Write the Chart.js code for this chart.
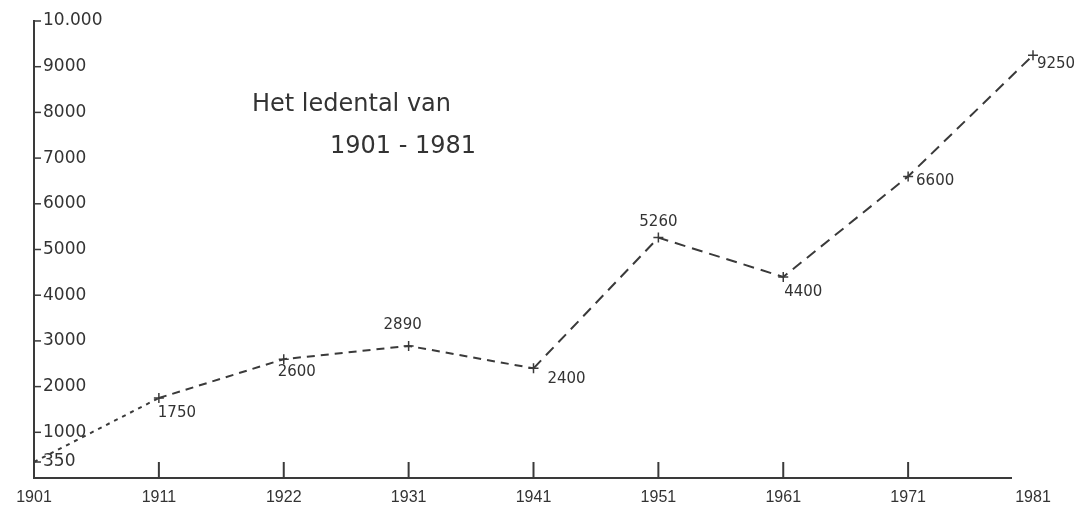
<!DOCTYPE html>
<html>
<head>
<meta charset="utf-8">
<title>Het ledental van 1901 - 1981</title>
<script src="https://cdn.jsdelivr.net/npm/chart.js@4"></script>
<style>
  html, body { margin: 0; padding: 0; background: #fff; }
  #wrap { width: 1079px; height: 507px; }
</style>
</head>
<body>
<div id="wrap"><canvas id="grafiek" width="1079" height="507"></canvas></div>
<script>
//DATA
const jaren = ["1901", "1911", "1922", "1931", "1941", "1951", "1961", "1971", "1981"];
const leden = [350, 1750, 2600, 2890, 2400, 5260, 4400, 6600, 9250];
const yTicks = [350, 1000, 2000, 3000, 4000, 5000, 6000, 7000, 8000, 9000, 10000];
const titel = ["Het ledental van", "1901 - 1981"];

// where each value label sits next to its point (dx, dy), null = no label
const labelOffsets = [null, [18, 15], [13, 13], [-6, -21], [33, 11], [0, -16], [20, 15], [27, 5], [23, 9]];

const ink = "#3a3a3a";
const textColor = "#333";

//EXTRA DRAWING: axis line, tick marks, title, value labels
const extras = {
  id: "extras",
  afterDraw(chart) {
    const ctx = chart.ctx;
    const x = chart.scales.x;
    const y = chart.scales.y;
    const area = chart.chartArea;
    ctx.save();
    ctx.strokeStyle = ink;
    ctx.lineWidth = 2;

    // x axis line, stops a bit before 1981
    ctx.beginPath();
    ctx.moveTo(area.left - 1, area.bottom);
    ctx.lineTo(area.right - 21, area.bottom);
    ctx.stroke();

    // small upward ticks 1911 - 1971
    for (let i = 1; i < jaren.length - 1; i++) {
      const px = x.getPixelForValue(i);
      ctx.beginPath();
      ctx.moveTo(px, area.bottom);
      ctx.lineTo(px, area.bottom - 16);
      ctx.stroke();
    }

    // short dashes on the y axis
    ctx.lineWidth = 1.5;
    yTicks.forEach((v) => {
      const py = y.getPixelForValue(v);
      ctx.beginPath();
      ctx.moveTo(area.left, py);
      ctx.lineTo(area.left + 7, py);
      ctx.stroke();
    });

    // title
    ctx.fillStyle = textColor;
    ctx.font = "24px 'DejaVu Sans'";
    ctx.textBaseline = "middle";
    ctx.textAlign = "left";
    ctx.fillText(titel[0], 252, 105);
    ctx.fillText(titel[1], 330, 147);

    // value labels
    const meta = chart.getDatasetMeta(0);
    ctx.font = "15px 'DejaVu Sans'";
    ctx.textAlign = "center";
    meta.data.forEach((pt, i) => {
      const off = labelOffsets[i];
      if (!off) return;
      ctx.fillText(String(leden[i]), pt.x + off[0], pt.y + off[1]);
    });
    ctx.restore();
  }
};

//CHART
new Chart(document.getElementById("grafiek"), {
  type: "line",
  data: {
    labels: jaren,
    datasets: [{
      data: leden,
      borderColor: ink,
      borderWidth: 2,
      borderDash: [8, 6],
      fill: false,
      tension: 0,
      pointStyle: "cross",
      pointRadius: (c) => (c.dataIndex === 0 ? 0 : 5),
      pointBorderColor: ink,
      pointBorderWidth: 1.5,
      segment: {
        // dotted start, longer dashes towards the end
        borderDash: (c) => (c.p0DataIndex === 0 ? [4, 5] : c.p0DataIndex >= 4 ? [11, 7] : undefined),
      },
    }],
  },
  options: {
    responsive: false,
    animation: false,
    devicePixelRatio: 1,
    layout: { padding: { top: 21, left: 16, right: 46, bottom: -11 } },
    plugins: {
      legend: { display: false },
      tooltip: { enabled: false },
    },
    scales: {
      x: {
        grid: { display: false, drawTicks: false },
        border: { display: false },
        ticks: {
          autoSkip: false,
          maxRotation: 0,
          padding: 12,
          color: textColor,
          font: { family: "'Liberation Sans'", size: 16, lineHeight: 1 },
        },
      },
      y: {
        min: 0,
        max: 10000,
        afterBuildTicks: (s) => { s.ticks = yTicks.map((v) => ({ value: v })); },
        grid: { display: false, drawTicks: false },
        border: { display: true, color: ink, width: 2 },
        ticks: {
          mirror: true,
          padding: 9,
          color: textColor,
          font: { family: "'DejaVu Sans'", size: 17 },
          callback: (v) => (v === 10000 ? "10.000" : String(v)),
        },
      },
    },
  },
  plugins: [extras],
});
</script>
</body>
</html>
